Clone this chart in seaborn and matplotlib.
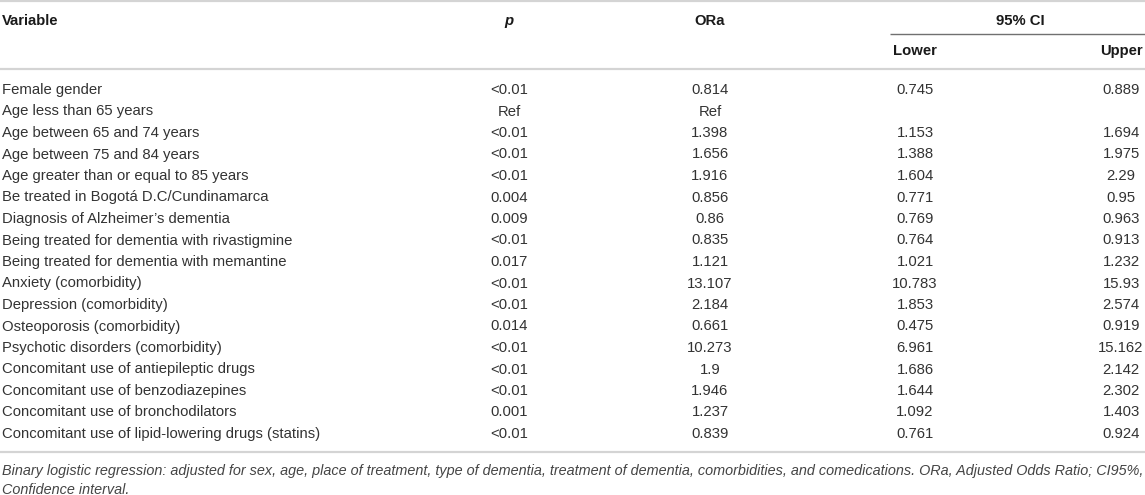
import matplotlib
matplotlib.use("Agg")
import matplotlib.pyplot as plt
import seaborn as sns

# Table contents
variables = [
    "Female gender",
    "Age less than 65 years",
    "Age between 65 and 74 years",
    "Age between 75 and 84 years",
    "Age greater than or equal to 85 years",
    "Be treated in Bogotá D.C/Cundinamarca",
    "Diagnosis of Alzheimer’s dementia",
    "Being treated for dementia with rivastigmine",
    "Being treated for dementia with memantine",
    "Anxiety (comorbidity)",
    "Depression (comorbidity)",
    "Osteoporosis (comorbidity)",
    "Psychotic disorders (comorbidity)",
    "Concomitant use of antiepileptic drugs",
    "Concomitant use of benzodiazepines",
    "Concomitant use of bronchodilators",
    "Concomitant use of lipid-lowering drugs (statins)",
]
p_values = ["<0.01", "Ref", "<0.01", "<0.01", "<0.01", "0.004", "0.009", "<0.01", "0.017",
            "<0.01", "<0.01", "0.014", "<0.01", "<0.01", "<0.01", "0.001", "<0.01"]
ora = ["0.814", "Ref", "1.398", "1.656", "1.916", "0.856", "0.86", "0.835", "1.121",
       "13.107", "2.184", "0.661", "10.273", "1.9", "1.946", "1.237", "0.839"]
ci_lower = ["0.745", "", "1.153", "1.388", "1.604", "0.771", "0.769", "0.764", "1.021",
            "10.783", "1.853", "0.475", "6.961", "1.686", "1.644", "1.092", "0.761"]
ci_upper = ["0.889", "", "1.694", "1.975", "2.29", "0.95", "0.963", "0.913", "1.232",
            "15.93", "2.574", "0.919", "15.162", "2.142", "2.302", "1.403", "0.924"]

caption = ("Binary logistic regression: adjusted for sex, age, place of treatment, type of dementia, "
           "treatment of dementia, comorbidities, and comedications. ORa, Adjusted Odds Ratio; CI95%,\n"
           "Confidence interval.")

sns.set_theme(style="white")
plt.rcParams['font.family'] = ['Liberation Sans', 'DejaVu Sans']

W, H = 1145, 495
fig = plt.figure(figsize=(W / 100, H / 100), dpi=100)
ax = fig.add_axes([0, 0, 1, 1])
ax.set_xlim(0, W)
ax.set_ylim(H, 0)
ax.axis('off')

body = dict(fontsize=10.7, color='#333333', va='center')
head = dict(fontsize=10.7, color='#1a1a1a', va='center', fontweight='bold')

# column x positions (left for variable, centres for the rest)
x_var, x_p, x_or, x_lo, x_up = 2, 509, 710, 915, 1121

# header
ax.text(x_var, 21, "Variable", ha='left', **head)
ax.text(x_p, 21, "p", ha='center', fontstyle='italic', **head)
ax.text(x_or, 21, "ORa", ha='center', **head)
ax.text(1020, 21, "95% CI", ha='center', **head)
ax.text(x_lo, 51, "Lower", ha='center', **head)
ax.text(x_up, 51, "Upper", ha='center', **head)

# rules
rule = '#d4d4d4'
ax.plot([0, W], [1, 1], color=rule, lw=1.6, solid_capstyle='butt')
ax.plot([0, W], [69, 69], color=rule, lw=1.6, solid_capstyle='butt')
ax.plot([890, W], [34, 34], color='#707070', lw=1.0, solid_capstyle='butt')
ax.plot([0, W], [452, 452], color=rule, lw=1.6, solid_capstyle='butt')

# body rows
y0, row_h = 90, 21.5
for i, name in enumerate(variables):
    y = y0 + i * row_h
    ax.text(x_var, y, name, ha='left', **body)
    ax.text(x_p, y, p_values[i], ha='center', **body)
    ax.text(x_or, y, ora[i], ha='center', **body)
    ax.text(x_lo, y, ci_lower[i], ha='center', **body)
    ax.text(x_up, y, ci_upper[i], ha='center', **body)

ax.text(2, 464, caption, ha='left', va='top', fontsize=10.35, fontstyle='italic',
        color='#444444', linespacing=1.45)

fig.savefig("out.png", dpi=100)
